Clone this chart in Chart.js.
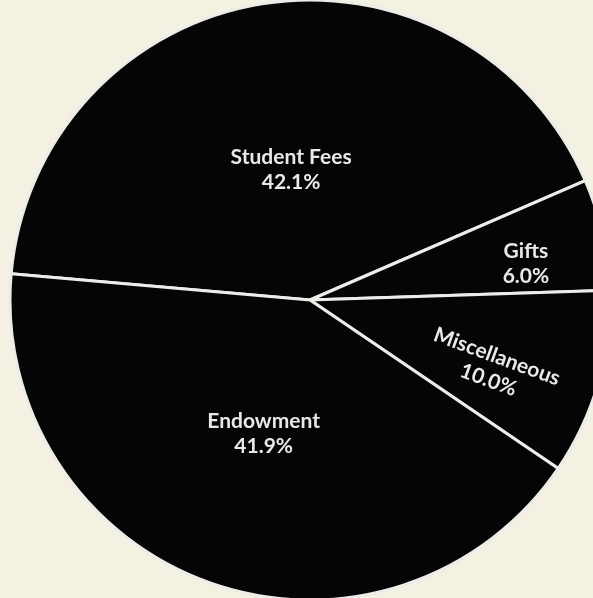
<!DOCTYPE html>
<html>
<head>
<meta charset="utf-8">
<script src="https://cdn.jsdelivr.net/npm/chart.js@4.4.0/dist/chart.umd.min.js"></script>
<style>
  html, body { margin: 0; padding: 0; background: #f4f0e2; overflow: hidden; width: 593px; height: 598px; }
  #wrap { position: absolute; left: 0; top: 0; width: 620px; height: 600px; }
</style>
</head>
<body>
<div id="wrap"><canvas id="pieCanvas"></canvas></div>
<script>
const categories = ["Student Fees", "Gifts", "Miscellaneous", "Endowment"];
const shares = [42.1, 6.0, 10.0, 41.9];
const shareLabels = ["42.1%", "6.0%", "10.0%", "41.9%"];

// where each label sits inside its slice: angle shift (deg), radius fraction, text rotation (deg)
const labelPlace = [
    { shift: 1, r: 0.44, rot: 0 },
    { shift: 3, r: 0.73, rot: 0 },
    { shift: 4.2, r: 0.65, rot: 20 },
    { shift: -0.4, r: 0.47, rot: 0 }
];

const sliceLabels = {
    id: "sliceLabels",
    afterDatasetsDraw(chart) {
        const ctx = chart.ctx;
        const arcs = chart.getDatasetMeta(0).data;
        arcs.forEach((arc, i) => {
            const p = labelPlace[i];
            const mid = (arc.startAngle + arc.endAngle) / 2 + p.shift * Math.PI / 180;
            const rad = arc.outerRadius * p.r;
            const x = arc.x + Math.cos(mid) * rad;
            const y = arc.y + Math.sin(mid) * rad;
            ctx.save();
            ctx.translate(x, y);
            ctx.rotate(p.rot * Math.PI / 180);
            ctx.fillStyle = "#e9e9e6";
            ctx.textAlign = "center";
            ctx.textBaseline = "middle";
            ctx.font = "bold 21px Lato";
            ctx.fillText(categories[i], 0, -12);
            ctx.fillText(shareLabels[i], 0, 13);
            ctx.restore();
        });
    }
};

const pieCanvas = document.getElementById("pieCanvas");

const pieChart = new Chart(pieCanvas, {
    type: "pie",
    data: {
        labels: categories,
        datasets: [{
            data: shares,
            backgroundColor: "#050505",
            borderColor: "#ecece8",
            borderWidth: 3,
            radius: 300
        }]
    },
    options: {
        responsive: true,
        maintainAspectRatio: false,
        animation: false,
        rotation: 275,
        layout: { padding: 0 },
        plugins: {
            legend: { display: false },
            tooltip: { enabled: false }
        }
    },
    plugins: [sliceLabels]
});
</script>
</body>
</html>
